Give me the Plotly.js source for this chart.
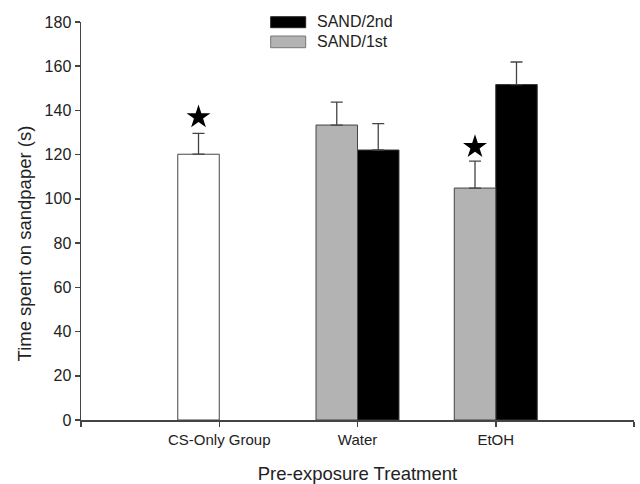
<!DOCTYPE html>
<html>
<head>
<meta charset="utf-8">
<script src="https://cdn.plot.ly/plotly-3.0.1.min.js"></script>
<style>html,body{margin:0;padding:0;background:#fff;}#chart{width:640px;height:484px;}</style>
</head>
<body>
<div id="chart"></div>
<script>
// Categories along the x axis
var categories = ['CS-Only Group', 'Water', 'EtOH'];

// CS-only control group (white bar)
var csCategories = ['CS-Only Group'];
var csMean = [120.2];
var csErr = [9.4];

// SAND/1st (grey bars)
var firstName = 'SAND/1st';
var firstCategories = ['Water', 'EtOH'];
var firstMean = [133.4, 104.9];
var firstErr = [10.4, 12.2];

// SAND/2nd (black bars)
var secondName = 'SAND/2nd';
var secondCategories = ['Water', 'EtOH'];
var secondMean = [122.1, 151.7];
var secondErr = [11.9, 10.2];

// Significance stars
var starCategories = ['CS-Only Group', 'EtOH'];
var starY = [137, 123.5];

var yTicks = [0, 20, 40, 60, 80, 100, 120, 140, 160, 180];

function pos(c) { return categories.indexOf(c) + 1; }

var BW = 0.3;
var FONT = 'Liberation Sans, Arial, sans-serif';
var TXT = '#222';
var EC = '#444';

function errY(arr) {
  return {type: 'data', symmetric: false, array: arr, arrayminus: arr.map(function(){return 0;}),
          color: EC, thickness: 1.3, width: 6};
}

var traces = [
  {
    type: 'bar', name: secondName,
    x: secondCategories.map(pos), y: secondMean,
    width: BW, offset: 0,
    marker: {color: '#000000', line: {color: '#333', width: 1}},
    error_y: errY(secondErr)
  },
  {
    type: 'bar', name: firstName,
    x: firstCategories.map(pos), y: firstMean,
    width: BW, offset: -BW,
    marker: {color: '#b3b3b3', line: {color: EC, width: 1}},
    error_y: errY(firstErr)
  },
  {
    type: 'bar', name: 'CS-Only',
    x: csCategories.map(pos), y: csMean,
    width: BW, offset: -BW,
    marker: {color: '#ffffff', line: {color: EC, width: 1}},
    error_y: errY(csErr)
  },
  {
    type: 'scatter', mode: 'markers', name: 'sig',
    x: starCategories.map(function(c){ return pos(c) - BW / 2; }), y: starY,
    marker: {symbol: 'star', size: 18, color: '#000'},
    hoverinfo: 'skip'
  }
];

var tickvals = [0].concat(categories.map(pos)).concat([categories.length + 1]);
var ticktext = [''].concat(categories).concat(['']);

// legend drawn as keys + labels in paper coordinates
var shapes = [
  {type: 'rect', xref: 'paper', yref: 'paper', x0: 0.343, x1: 0.4063, y0: 0.9857, y1: 1.0133,
   fillcolor: '#000', line: {color: '#222', width: 1}},
  {type: 'rect', xref: 'paper', yref: 'paper', x0: 0.343, x1: 0.4063, y0: 0.9354, y1: 0.9648,
   fillcolor: '#b3b3b3', line: {color: '#777', width: 1}}
];
var annotations = [
  {xref: 'paper', yref: 'paper', x: 0.4231, y: 1.0005, xanchor: 'left', yanchor: 'middle',
   text: secondName, showarrow: false, font: {family: FONT, size: 16, color: TXT}},
  {xref: 'paper', yref: 'paper', x: 0.4231, y: 0.9505, xanchor: 'left', yanchor: 'middle',
   text: firstName, showarrow: false, font: {family: FONT, size: 16, color: TXT}},
  {xref: 'paper', yref: 'paper', x: -0.1013, y: 0.4435, xanchor: 'center', yanchor: 'middle',
   textangle: -90, text: 'Time spent on sandpaper (s)', showarrow: false,
   font: {family: FONT, size: 18.5, color: TXT}}
];

var layout = {
  width: 640, height: 484,
  margin: {l: 81, r: 6, t: 22, b: 64, pad: 0},
  paper_bgcolor: '#fff', plot_bgcolor: '#fff',
  font: {family: FONT, color: TXT, size: 16},
  barmode: 'overlay',
  showlegend: false,
  shapes: shapes,
  annotations: annotations,
  xaxis: {
    range: [0, categories.length + 1],
    tickmode: 'array', tickvals: tickvals, ticktext: ticktext,
    ticks: 'outside', ticklen: 5, tickwidth: 1.5, tickcolor: '#444',
    showline: true, linecolor: '#444', linewidth: 1.5,
    showgrid: false, zeroline: false,
    tickfont: {family: FONT, size: 15, color: TXT},
    title: {text: 'Pre-exposure Treatment', font: {family: FONT, size: 18.5, color: TXT}, standoff: 23}
  },
  yaxis: {
    range: [0, 180],
    tickmode: 'array', tickvals: yTicks,
    ticks: 'outside', ticklen: 5, tickwidth: 1.5, tickcolor: '#444',
    showline: true, linecolor: '#444', linewidth: 1.5,
    showgrid: false, zeroline: false,
    tickfont: {family: FONT, size: 16, color: TXT}
  }
};

Plotly.newPlot('chart', traces, layout, {displayModeBar: false, staticPlot: true});
</script>
</body>
</html>
